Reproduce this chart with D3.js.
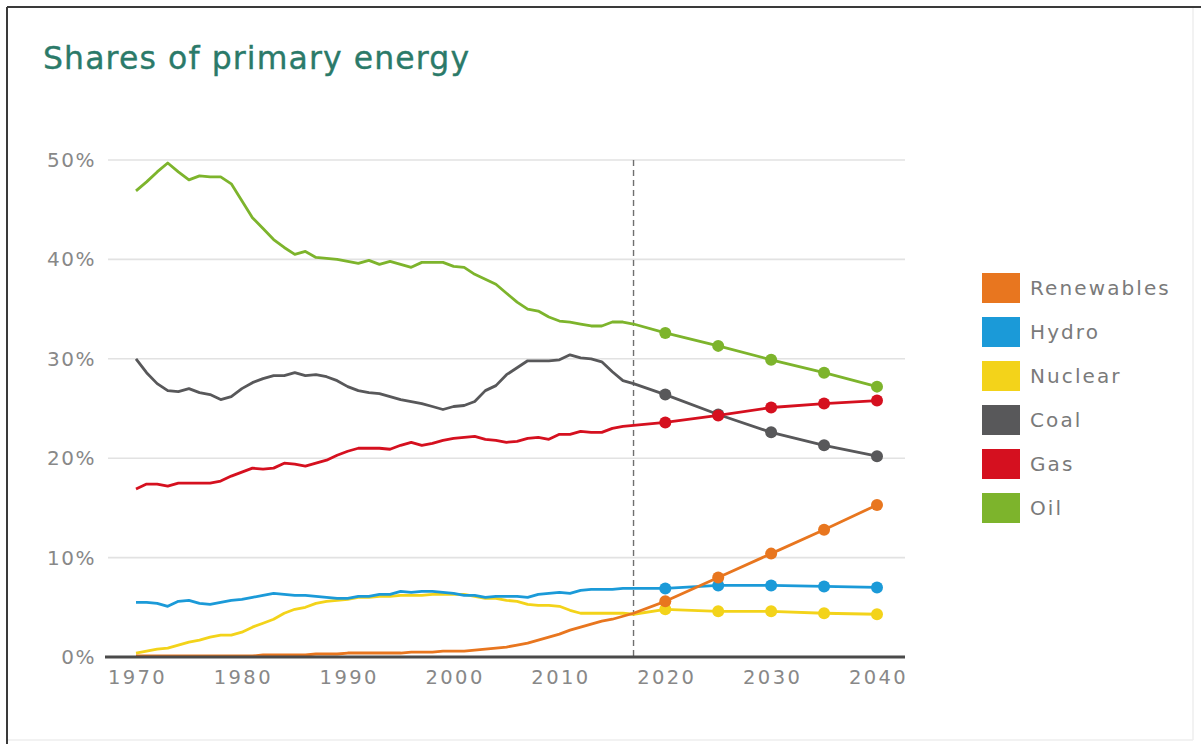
<!DOCTYPE html>
<html>
<head>
<meta charset="utf-8">
<script src="https://cdn.jsdelivr.net/npm/d3@7"></script>
<style>
  html, body { margin: 0; padding: 0; background: #ffffff; }
  svg { display: block; }
  text { font-family: "DejaVu Sans", Verdana, sans-serif; }
</style>
</head>
<body>
<svg id="chart" width="1201" height="744"></svg>
<script>
// Historical shares, one value per year 1970–2017 (%)
const histYears = d3.range(1970, 2018);
const oilHist = [46.9,47.8,48.8,49.7,48.8,48.0,48.4,48.3,48.3,47.6,45.9,44.2,43.1,42.0,41.2,40.5,40.8,40.2,40.1,40.0,39.8,39.6,39.9,39.5,39.8,39.5,39.2,39.7,39.7,39.7,39.3,39.2,38.5,38.0,37.5,36.6,35.7,35.0,34.8,34.2,33.8,33.7,33.5,33.3,33.3,33.7,33.7,33.5];
const coalHist = [30.0,28.6,27.5,26.8,26.7,27.0,26.6,26.4,25.9,26.2,27.0,27.6,28.0,28.3,28.3,28.6,28.3,28.4,28.2,27.8,27.2,26.8,26.6,26.5,26.2,25.9,25.7,25.5,25.2,24.9,25.2,25.3,25.7,26.8,27.3,28.4,29.1,29.8,29.8,29.8,29.9,30.4,30.1,30.0,29.7,28.7,27.8,27.5];
const gasHist = [16.9,17.4,17.4,17.2,17.5,17.5,17.5,17.5,17.7,18.2,18.6,19.0,18.9,19.0,19.5,19.4,19.2,19.5,19.8,20.3,20.7,21.0,21.0,21.0,20.9,21.3,21.6,21.3,21.5,21.8,22.0,22.1,22.2,21.9,21.8,21.6,21.7,22.0,22.1,21.9,22.4,22.4,22.7,22.6,22.6,23.0,23.2,23.3];
const hydroHist = [5.5,5.5,5.4,5.1,5.6,5.7,5.4,5.3,5.5,5.7,5.8,6.0,6.2,6.4,6.3,6.2,6.2,6.1,6.0,5.9,5.9,6.1,6.1,6.3,6.3,6.6,6.5,6.6,6.6,6.5,6.4,6.2,6.2,6.0,6.1,6.1,6.1,6.0,6.3,6.4,6.5,6.4,6.7,6.8,6.8,6.8,6.9,6.9];
const nuclearHist = [0.4,0.6,0.8,0.9,1.2,1.5,1.7,2.0,2.2,2.2,2.5,3.0,3.4,3.8,4.4,4.8,5.0,5.4,5.6,5.7,5.8,6.0,6.0,6.1,6.1,6.2,6.2,6.2,6.3,6.3,6.3,6.3,6.1,5.9,5.9,5.7,5.6,5.3,5.2,5.2,5.1,4.7,4.4,4.4,4.4,4.4,4.4,4.3];
const renewHist = [0.1,0.1,0.1,0.1,0.1,0.1,0.1,0.1,0.1,0.1,0.1,0.1,0.2,0.2,0.2,0.2,0.2,0.3,0.3,0.3,0.4,0.4,0.4,0.4,0.4,0.4,0.5,0.5,0.5,0.6,0.6,0.6,0.7,0.8,0.9,1.0,1.2,1.4,1.7,2.0,2.3,2.7,3.0,3.3,3.6,3.8,4.1,4.4];

// Outlook, every five years (%)
const outlookYears = [2020, 2025, 2030, 2035, 2040];
const oilOutlook = [32.6, 31.3, 29.9, 28.6, 27.2];
const coalOutlook = [26.4, 24.4, 22.6, 21.3, 20.2];
const gasOutlook = [23.6, 24.3, 25.1, 25.5, 25.8];
const hydroOutlook = [6.9, 7.2, 7.2, 7.1, 7.0];
const nuclearOutlook = [4.8, 4.6, 4.6, 4.4, 4.3];
const renewOutlook = [5.6, 8.0, 10.4, 12.8, 15.3];

const legendNames = ["Renewables", "Hydro", "Nuclear", "Coal", "Gas", "Oil"];
const legendColors = ["#e8761f", "#1b9ad8", "#f3d31a", "#58585a", "#d5101f", "#7db42c"];
const yTicks = [0, 10, 20, 30, 40, 50];
const xTicks = [1970, 1980, 1990, 2000, 2010, 2020, 2030, 2040];
const outlookStart = 2017;
const titleText = "Shares of primary energy";

const seriesList = [
  { name: "Nuclear", hist: nuclearHist, outlook: nuclearOutlook },
  { name: "Hydro", hist: hydroHist, outlook: hydroOutlook },
  { name: "Renewables", hist: renewHist, outlook: renewOutlook },
  { name: "Coal", hist: coalHist, outlook: coalOutlook },
  { name: "Gas", hist: gasHist, outlook: gasOutlook },
  { name: "Oil", hist: oilHist, outlook: oilOutlook }
];

const color = d3.scaleOrdinal().domain(legendNames).range(legendColors);

const svg = d3.select("#chart");

// frame
svg.append("line").attr("x1", 7).attr("y1", 7).attr("x2", 1201).attr("y2", 7)
  .attr("stroke", "#3a3a3a").attr("stroke-width", 2);
svg.append("line").attr("x1", 7).attr("y1", 7).attr("x2", 7).attr("y2", 744)
  .attr("stroke", "#3a3a3a").attr("stroke-width", 2);
svg.append("line").attr("x1", 1193).attr("y1", 8).attr("x2", 1193).attr("y2", 740)
  .attr("stroke", "#eeeeee").attr("stroke-width", 1.5);
svg.append("line").attr("x1", 8).attr("y1", 740).attr("x2", 1193).attr("y2", 740)
  .attr("stroke", "#eeeeee").attr("stroke-width", 1.5);

// title
svg.append("text")
  .attr("x", 43).attr("y", 69)
  .attr("font-size", 31.5)
  .attr("letter-spacing", 1.1)
  .attr("fill", "#2b7a69")
  .attr("stroke", "#2b7a69").attr("stroke-width", 0.35)
  .text(titleText);

const x = d3.scaleLinear().domain([1970, 2040]).range([136, 877]);
const y = d3.scaleLinear().domain([0, 50]).range([657, 160]);
const gridLeft = 108, gridRight = 905;

// gridlines
const grid = svg.append("g");
grid.selectAll("line").data(yTicks.filter(d => d > 0)).join("line")
  .attr("x1", gridLeft).attr("x2", gridRight)
  .attr("y1", d => y(d)).attr("y2", d => y(d))
  .attr("stroke", "#e2e2e2").attr("stroke-width", 1.6);

// y axis labels
const yAxis = svg.append("g").attr("transform", "translate(96,0)")
  .call(d3.axisLeft(y).tickValues(yTicks).tickFormat(d => d + "%").tickSize(0).tickPadding(0));
yAxis.select(".domain").remove();
yAxis.selectAll("text")
  .attr("font-family", "DejaVu Sans, Verdana, sans-serif")
  .attr("font-size", 20).attr("letter-spacing", 1.5)
  .attr("fill", "#888888");

// x axis labels
const xAxis = svg.append("g").attr("transform", "translate(0,668)")
  .call(d3.axisBottom(x).tickValues(xTicks).tickFormat(d3.format("d")).tickSize(0).tickPadding(2));
xAxis.select(".domain").remove();
xAxis.selectAll("text")
  .attr("font-family", "DejaVu Sans, Verdana, sans-serif")
  .attr("font-size", 19.5).attr("letter-spacing", 2.4)
  .attr("fill", "#888888")
  .attr("dx", 1);

// outlook divider
svg.append("line")
  .attr("x1", x(outlookStart)).attr("x2", x(outlookStart))
  .attr("y1", y(50)).attr("y2", y(0))
  .attr("stroke", "#6f6f6f").attr("stroke-width", 1.4)
  .attr("stroke-dasharray", "6,4");

// series
const line = d3.line().x(d => x(d.year)).y(d => y(d.value));
const plot = svg.append("g");
seriesList.forEach(s => {
  const pts = histYears.map((yr, i) => ({ year: yr, value: s.hist[i] }))
    .concat(outlookYears.map((yr, i) => ({ year: yr, value: s.outlook[i] })));
  const g = plot.append("g");
  g.append("path").datum(pts)
    .attr("d", line)
    .attr("fill", "none")
    .attr("stroke", color(s.name))
    .attr("stroke-width", 2.8)
    .attr("stroke-linejoin", "round");
  g.selectAll("circle")
    .data(outlookYears.map((yr, i) => ({ year: yr, value: s.outlook[i] })))
    .join("circle")
    .attr("cx", d => x(d.year)).attr("cy", d => y(d.value))
    .attr("r", 6)
    .attr("fill", color(s.name));
});

// baseline axis
svg.append("line")
  .attr("x1", 105).attr("x2", gridRight)
  .attr("y1", y(0)).attr("y2", y(0))
  .attr("stroke", "#4a4a4a").attr("stroke-width", 3);

// legend
const legend = svg.append("g").attr("transform", "translate(982,273)");
const rows = legend.selectAll("g").data(legendNames).join("g")
  .attr("transform", (d, i) => `translate(0,${i * 44})`);
rows.append("rect")
  .attr("width", 38).attr("height", 30)
  .attr("fill", d => color(d));
rows.append("text")
  .attr("x", 48).attr("y", 15).attr("dy", "0.36em")
  .attr("font-size", 20).attr("letter-spacing", 2.1)
  .attr("fill", "#7a7a7a")
  .text(d => d);
</script>
</body>
</html>
